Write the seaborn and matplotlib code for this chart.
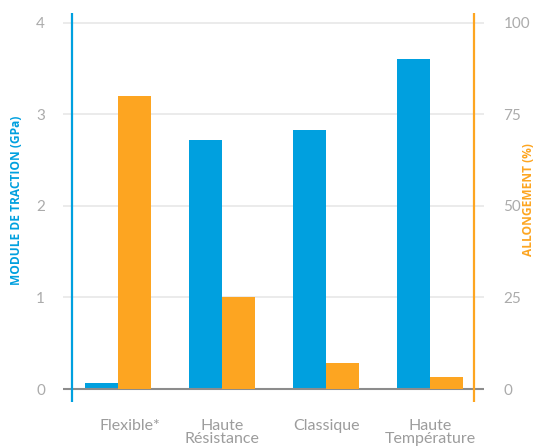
import matplotlib
matplotlib.use("Agg")
import matplotlib.pyplot as plt
import matplotlib.transforms as mtransforms
import seaborn as sns
import pandas as pd
import numpy as np

categories = ["Flexible*", "Haute\nRésistance", "Classique", "Haute\nTempérature"]
module_gpa = [0.07, 2.72, 2.83, 3.61]
allongement_pct = [80, 25, 7, 3.3]

BLUE = "#00A0DF"
ORANGE = "#FDA521"
GRID = "#E8E8E8"
TXT = "#ABABAB"

sns.set_theme(style="white")
plt.rcParams["font.family"] = ["Lato", "DejaVu Sans"]

fig = plt.figure(figsize=(5.37, 4.48), dpi=100)
ax1 = fig.add_axes([63 / 537, 1 - 402 / 448, (484 - 63) / 537, (402 - 13) / 448])
ax2 = ax1.twinx()

pos = np.arange(len(categories))
bw = 0.317
df_mod = pd.DataFrame({"x": pos - bw / 2, "v": module_gpa})
df_all = pd.DataFrame({"x": pos + bw / 2, "v": allongement_pct})

sns.barplot(data=df_mod, x="x", y="v", native_scale=True, ax=ax1, color=BLUE,
            width=bw, errorbar=None, linewidth=0, saturation=1, zorder=3)
sns.barplot(data=df_all, x="x", y="v", native_scale=True, ax=ax2, color=ORANGE,
            width=bw, errorbar=None, linewidth=0, saturation=1, zorder=3)

xlim = (-0.529, 3.519)
for ax in (ax1, ax2):
    ax.set_xlim(*xlim)
    for s in ax.spines.values():
        s.set_visible(False)
    ax.set_xlabel("")
    ax.set_ylabel("")

lo, hi = -0.142, 4.109
ax1.set_ylim(lo, hi)
ax2.set_ylim(lo * 25, hi * 25)

# horizontal guides and baseline
for v in [1, 2, 3, 4]:
    ax1.axhline(v, color=GRID, lw=1.2, zorder=0)
ax1.axhline(0, color="#8C8C8C", lw=1.5, zorder=4)

# coloured vertical axis lines
ax1.axvline(-0.44, color=BLUE, lw=1.6, zorder=5)
ax2.axvline(3.42, color=ORANGE, lw=1.6, zorder=5)

ax1.set_yticks([0, 1, 2, 3, 4])
ax1.set_yticklabels(["0", "1", "2", "3", "4"])
ax2.set_yticks([0, 25, 50, 75, 100])
ax2.set_yticklabels(["0", "25", "50", "75", "100"])
ax1.tick_params(axis="y", length=0, pad=13, labelsize=11, labelcolor=TXT)
ax2.tick_params(axis="y", length=0, pad=14, labelsize=11, labelcolor=TXT)

ax1.set_xticks(pos)
ax1.set_xticklabels(categories, linespacing=0.95)
ax1.tick_params(axis="x", length=0, pad=12, labelsize=11.5, labelcolor="#9C9C9C",
                labelbottom=True)
# nudge the first category label a little to the right
first = ax1.get_xticklabels()[0]
first.set_transform(first.get_transform()
                    + mtransforms.ScaledTranslation(12 / 100, 0, fig.dpi_scale_trans))

fig.text(17 / 537, 1 - 200 / 448, "MODULE DE TRACTION (GPa)", rotation=90,
         color=BLUE, fontsize=8.6, fontweight="bold", family="Open Sans",
         ha="center", va="center")
fig.text(528 / 537, 1 - 200 / 448, "ALLONGEMENT (%)", rotation=90,
         color=ORANGE, fontsize=8.6, fontweight="bold", family="Open Sans",
         ha="center", va="center")

fig.savefig("out.png", dpi=100, facecolor="white")
